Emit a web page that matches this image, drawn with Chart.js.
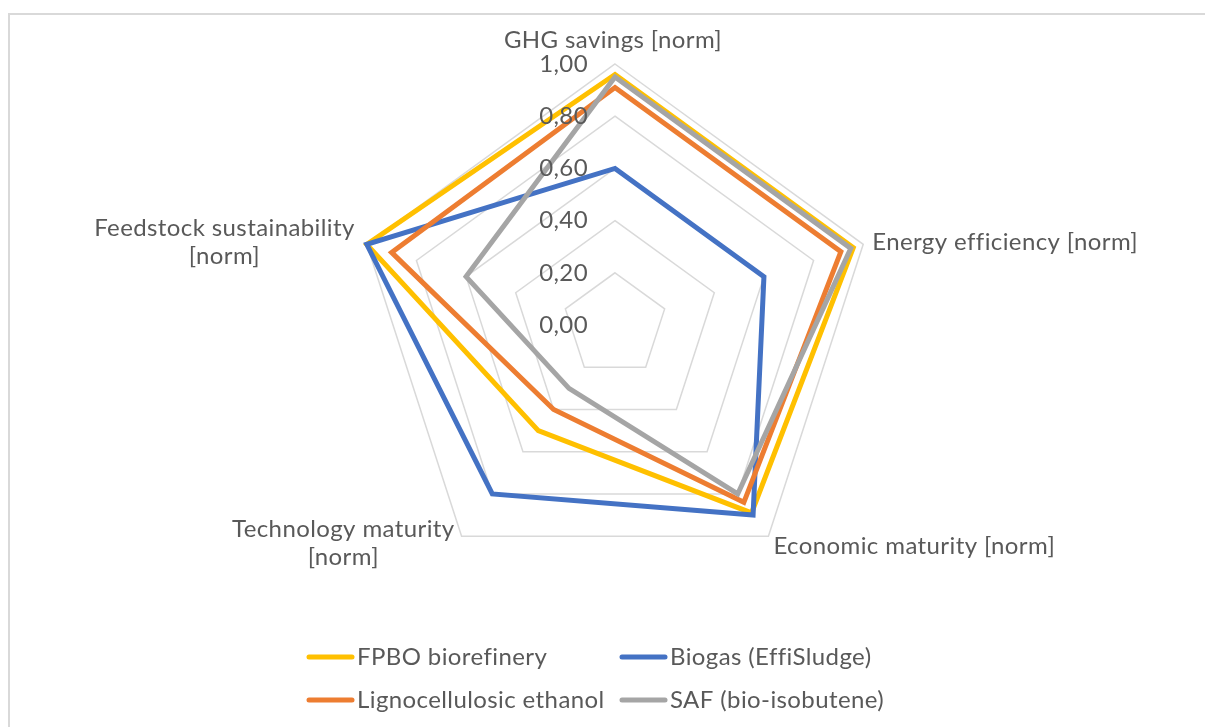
<!DOCTYPE html>
<html>
<head>
<meta charset="utf-8">
<script src="https://cdn.jsdelivr.net/npm/chart.js@4.4.1/dist/chart.umd.min.js"></script>
<style>
  html, body { margin: 0; padding: 0; background: #fff; }
  canvas { display: block; }
</style>
</head>
<body>
<canvas id="radar" width="1205" height="727"></canvas>
<script>
// Criteria (clockwise from the top) and the four pathways being compared
const axisLabels = [
  ['GHG savings [norm]'],
  ['Energy efficiency [norm]'],
  ['Economic maturity [norm]'],
  ['Technology maturity', '[norm]'],
  ['Feedstock sustainability', '[norm]']
];
const seriesNames = ['FPBO biorefinery', 'Biogas (EffiSludge)', 'Lignocellulosic ethanol', 'SAF (bio-isobutene)'];

const fpboValues   = [0.96, 0.96, 0.89, 0.50, 1.00];
const biogasValues = [0.60, 0.60, 0.90, 0.80, 1.00];
const lignoValues  = [0.91, 0.91, 0.84, 0.40, 0.90];
const safValues    = [0.95, 0.95, 0.80, 0.30, 0.60];

const tickValues = [0, 0.2, 0.4, 0.6, 0.8, 1.0];
const tickLabels = ['0,00', '0,20', '0,40', '0,60', '0,80', '1,00'];

const seriesColors = ['#FFC000', '#4472C4', '#ED7D31', '#A5A5A5'];
const seriesData = [fpboValues, biogasValues, lignoValues, safValues];

const FONT = '24px Lato, "Open Sans", sans-serif';
const LETTER_SPACING = '0.4px';
const TEXT_COLOR = '#595959';
const GRID_COLOR = '#D9D9D9';

// Where each criterion label sits relative to the outer ring vertex
const labelPlacement = [
  { align: 'center', dx: -2, dy: -24 },
  { align: 'left',   dx: 9,  dy: -2 },
  { align: 'left',   dx: 5,  dy: 10 },
  { align: 'right',  dx: -7, dy: 7 },
  { align: 'right',  dx: -12, dy: -2 }
];
const LINE_HEIGHT = 28;

// Legend grid: two columns, two rows below the plot
const legendLayout = { x0: 307, colWidth: 313, y0: 657, rowHeight: 43, swatch: 45, gap: 5 };

const framePlugin = {
  id: 'frame',
  beforeDraw(chart) {
    const ctx = chart.ctx;
    ctx.save();
    ctx.fillStyle = '#fff';
    ctx.fillRect(0, 0, chart.width, chart.height);
    ctx.strokeStyle = GRID_COLOR;
    ctx.lineWidth = 2;
    ctx.strokeRect(9, 14, chart.width + 20, chart.height + 20);
    ctx.restore();
  },
  afterDatasetsDraw(chart) {
    const ctx = chart.ctx;
    const scale = chart.scales.r;
    ctx.save();
    ctx.font = FONT;
    ctx.letterSpacing = LETTER_SPACING;
    ctx.fillStyle = TEXT_COLOR;
    ctx.textBaseline = 'middle';

    // value labels along the vertical axis
    ctx.textAlign = 'right';
    tickValues.forEach((v, i) => {
      const d = scale.getDistanceFromCenterForValue(v);
      ctx.fillText(tickLabels[i], scale.xCenter - 27, scale.yCenter - d);
    });

    // criterion labels
    axisLabels.forEach((lines, i) => {
      const p = scale.getPointPosition(i, scale.drawingArea);
      const place = labelPlacement[i];
      const widths = lines.map(t => ctx.measureText(t).width);
      const blockW = Math.max(...widths);
      let cx;
      if (place.align === 'center') cx = p.x + place.dx;
      else if (place.align === 'left') cx = p.x + place.dx + blockW / 2;
      else cx = p.x + place.dx - blockW / 2;
      const cy = p.y + place.dy;
      ctx.textAlign = 'center';
      lines.forEach((t, k) => {
        const y = cy + (k - (lines.length - 1) / 2) * LINE_HEIGHT;
        ctx.fillText(t, cx, y);
      });
    });

    // legend
    ctx.textAlign = 'left';
    seriesNames.forEach((name, i) => {
      const col = i % 2, row = Math.floor(i / 2);
      const x = legendLayout.x0 + col * legendLayout.colWidth;
      const y = legendLayout.y0 + row * legendLayout.rowHeight;
      ctx.strokeStyle = seriesColors[i];
      ctx.lineWidth = 5;
      ctx.lineCap = 'round';
      ctx.beginPath();
      ctx.moveTo(x + 2, y);
      ctx.lineTo(x + legendLayout.swatch, y);
      ctx.stroke();
      ctx.fillText(name, x + legendLayout.swatch + legendLayout.gap, y);
    });
    ctx.restore();
  }
};

new Chart(document.getElementById('radar'), {
  type: 'radar',
  data: {
    labels: axisLabels.map(l => l.join(' ')),
    datasets: seriesNames.map((name, i) => ({
      label: name,
      data: seriesData[i],
      borderColor: seriesColors[i],
      backgroundColor: 'transparent',
      borderWidth: 5,
      fill: false,
      pointRadius: 0,
      pointHoverRadius: 0,
      order: seriesNames.length - i
    }))
  },
  options: {
    responsive: false,
    devicePixelRatio: 1,
    animation: false,
    layout: { padding: { top: 64, bottom: 141, left: 240, right: 215 } },
    plugins: {
      legend: { display: false },
      tooltip: { enabled: false }
    },
    scales: {
      r: {
        min: 0,
        max: 1,
        beginAtZero: true,
        ticks: { stepSize: 0.2, display: false },
        pointLabels: { display: false },
        angleLines: { display: false },
        grid: { color: GRID_COLOR, lineWidth: 1.5 }
      }
    }
  },
  plugins: [framePlugin]
});
</script>
</body>
</html>
